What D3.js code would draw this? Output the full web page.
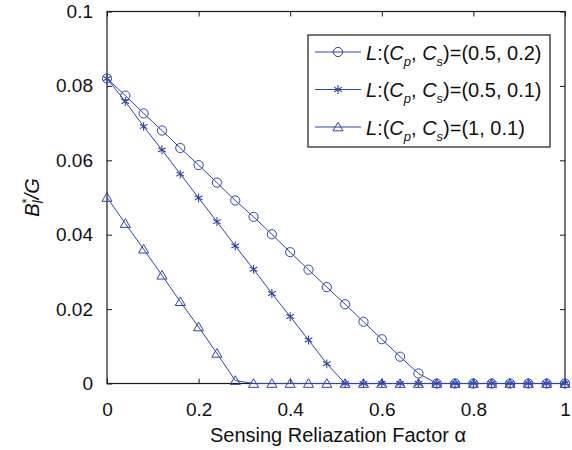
<!DOCTYPE html>
<html>
<head>
<meta charset="utf-8">
<script src="https://cdn.jsdelivr.net/npm/d3@7/dist/d3.min.js"></script>
<style>
  body { margin: 0; background: #fff; }
  svg { display: block; font-family: "Liberation Sans", Arial, Helvetica, sans-serif; }
</style>
</head>
<body>
<svg id="chart" width="572" height="450"></svg>
<script>
// ---- data ----
const alpha = [0, 0.04, 0.08, 0.12, 0.16, 0.2, 0.24, 0.28, 0.32, 0.36, 0.4, 0.44, 0.48,
               0.52, 0.56, 0.6, 0.64, 0.68, 0.72, 0.76, 0.8, 0.84, 0.88, 0.92, 0.96, 1];
const seriesA = [0.0820, 0.0774, 0.0726, 0.0680, 0.0633, 0.0587, 0.0540, 0.0492, 0.0448,
                 0.0401, 0.0353, 0.0306, 0.0259, 0.0213, 0.0166, 0.0119, 0.0072, 0.0027,
                 0, 0, 0, 0, 0, 0, 0, 0];
const seriesB = [0.0820, 0.0758, 0.0691, 0.0628, 0.0563, 0.0499, 0.0435, 0.0370, 0.0307,
                 0.0242, 0.0180, 0.0117, 0.0053, 0, 0, 0, 0, 0, 0, 0, 0, 0, 0, 0, 0, 0];
const seriesC = [0.0500, 0.0430, 0.0361, 0.0291, 0.0220, 0.0152, 0.0081, 0.0008, 0, 0, 0,
                 0, 0, 0, 0, 0, 0, 0, 0, 0, 0, 0, 0, 0, 0, 0];
const legendValues = ["(0.5, 0.2)", "(0.5, 0.1)", "(1, 0.1)"];
const markers = ["circle", "star", "triangle"];
const xTicks = [0, 0.2, 0.4, 0.6, 0.8, 1];
const xTickLabels = ["0", "0.2", "0.4", "0.6", "0.8", "1"];
const yTicks = [0, 0.02, 0.04, 0.06, 0.08, 0.1];
const yTickLabels = ["0", "0.02", "0.04", "0.06", "0.08", "0.1"];

// ---- layout ----
const L = 107, R = 565, T = 11.5, B = 383.5;
const color = "#2f45b0";
const axisColor = "#1a1a1a";
const svg = d3.select("#chart");
const x = d3.scaleLinear().domain([0, 1]).range([L, R]);
const y = d3.scaleLinear().domain([0, 0.1]).range([B, T]);

// axes with inward ticks on all four sides
const gx = svg.append("g").attr("transform", `translate(0,${B})`)
  .call(d3.axisBottom(x).tickValues(xTicks).tickFormat((d, i) => xTickLabels[i])
        .tickSizeInner(-5).tickSizeOuter(0).tickPadding(19));
const gxt = svg.append("g").attr("transform", `translate(0,${T})`)
  .call(d3.axisTop(x).tickValues(xTicks).tickFormat("").tickSizeInner(-5).tickSizeOuter(0));
const gy = svg.append("g").attr("transform", `translate(${L},0)`)
  .call(d3.axisLeft(y).tickValues(yTicks).tickFormat((d, i) => yTickLabels[i])
        .tickSizeInner(-5).tickSizeOuter(0).tickPadding(14));
const gyr = svg.append("g").attr("transform", `translate(${R},0)`)
  .call(d3.axisRight(y).tickValues(yTicks).tickFormat("").tickSizeInner(-5).tickSizeOuter(0));
[gx, gxt, gy, gyr].forEach(g => {
  g.selectAll("path.domain").remove();
  g.selectAll("line").attr("stroke", axisColor).attr("stroke-width", 1);
  g.selectAll("text").attr("fill", "#111").style("font-size", "19px")
   .style("font-family", '"Liberation Sans", Arial, sans-serif');
});
svg.append("rect").attr("x", L).attr("y", T).attr("width", R - L).attr("height", B - T)
  .attr("fill", "none").attr("stroke", axisColor).attr("stroke-width", 1.2);

// marker drawing
function drawMarker(g, type, cx, cy) {
  if (type === "circle") {
    g.append("circle").attr("cx", cx).attr("cy", cy).attr("r", 4.6)
      .attr("fill", "none").attr("stroke", color).attr("stroke-width", 1);
  } else if (type === "star") {
    const s = 4.4, d = s * 0.866;
    const p = `M${cx},${cy - s}L${cx},${cy + s}` +
              `M${cx - d},${cy - s / 2}L${cx + d},${cy + s / 2}` +
              `M${cx - d},${cy + s / 2}L${cx + d},${cy - s / 2}`;
    g.append("path").attr("d", p).attr("stroke", color).attr("stroke-width", 1.1).attr("fill", "none");
  } else {
    const h = 4.8;
    const p = `M${cx},${cy - h}L${cx + h * 1.05},${cy + h * 0.8}L${cx - h * 1.05},${cy + h * 0.8}Z`;
    g.append("path").attr("d", p).attr("stroke", color).attr("stroke-width", 1).attr("fill", "none");
  }
}

const allSeries = [seriesA, seriesB, seriesC];
const line = d3.line().x((d, i) => x(alpha[i])).y(d => y(d));
allSeries.forEach((vals, si) => {
  const g = svg.append("g");
  g.append("path").datum(vals).attr("d", line).attr("fill", "none")
    .attr("stroke", color).attr("stroke-width", 1);
  vals.forEach((v, i) => drawMarker(g, markers[si], x(alpha[i]), y(v)));
});

// legend
const lg = svg.append("g");
lg.append("rect").attr("x", 308).attr("y", 35).attr("width", 242).attr("height", 112)
  .attr("fill", "#fff").attr("stroke", axisColor).attr("stroke-width", 1.2);
const rowY = [52, 89.5, 127];
legendValues.forEach((val, i) => {
  const ry = rowY[i];
  lg.append("line").attr("x1", 315).attr("x2", 361).attr("y1", ry).attr("y2", ry)
    .attr("stroke", color).attr("stroke-width", 1);
  drawMarker(lg, markers[i], 338, ry);
  const t = lg.append("text").attr("x", 366).attr("y", ry + 7.5)
    .style("font-size", "20px").attr("fill", "#111");
  t.append("tspan").style("font-style", "italic").text("L");
  t.append("tspan").text(":(");
  t.append("tspan").style("font-style", "italic").text("C");
  t.append("tspan").style("font-style", "italic").style("font-size", "13px").attr("dy", 6).text("p");
  t.append("tspan").attr("dy", -6).text(", ");
  t.append("tspan").style("font-style", "italic").text("C");
  t.append("tspan").style("font-style", "italic").style("font-size", "13px").attr("dy", 6).text("s");
  t.append("tspan").attr("dy", -6).text(")=" + val);
});

// axis labels
svg.append("text").attr("x", (L + R) / 2 + 2).attr("y", 442).attr("text-anchor", "middle")
  .style("font-size", "20px").attr("fill", "#111").text("Sensing Reliazation Factor α");

const yl = svg.append("text").attr("transform", `translate(39,${(T + B) / 2}) rotate(-90)`)
  .attr("text-anchor", "middle").style("font-size", "20px").attr("fill", "#111");
yl.append("tspan").style("font-style", "italic").text("B");
yl.append("tspan").style("font-size", "13px").attr("dy", -8).text("*");
yl.append("tspan").style("font-style", "italic").style("font-size", "14px").attr("dx", -5).attr("dy", 12).text("l");
yl.append("tspan").style("font-style", "italic").attr("dx", 1).attr("dy", -4).text("/G");
</script>
</body>
</html>
